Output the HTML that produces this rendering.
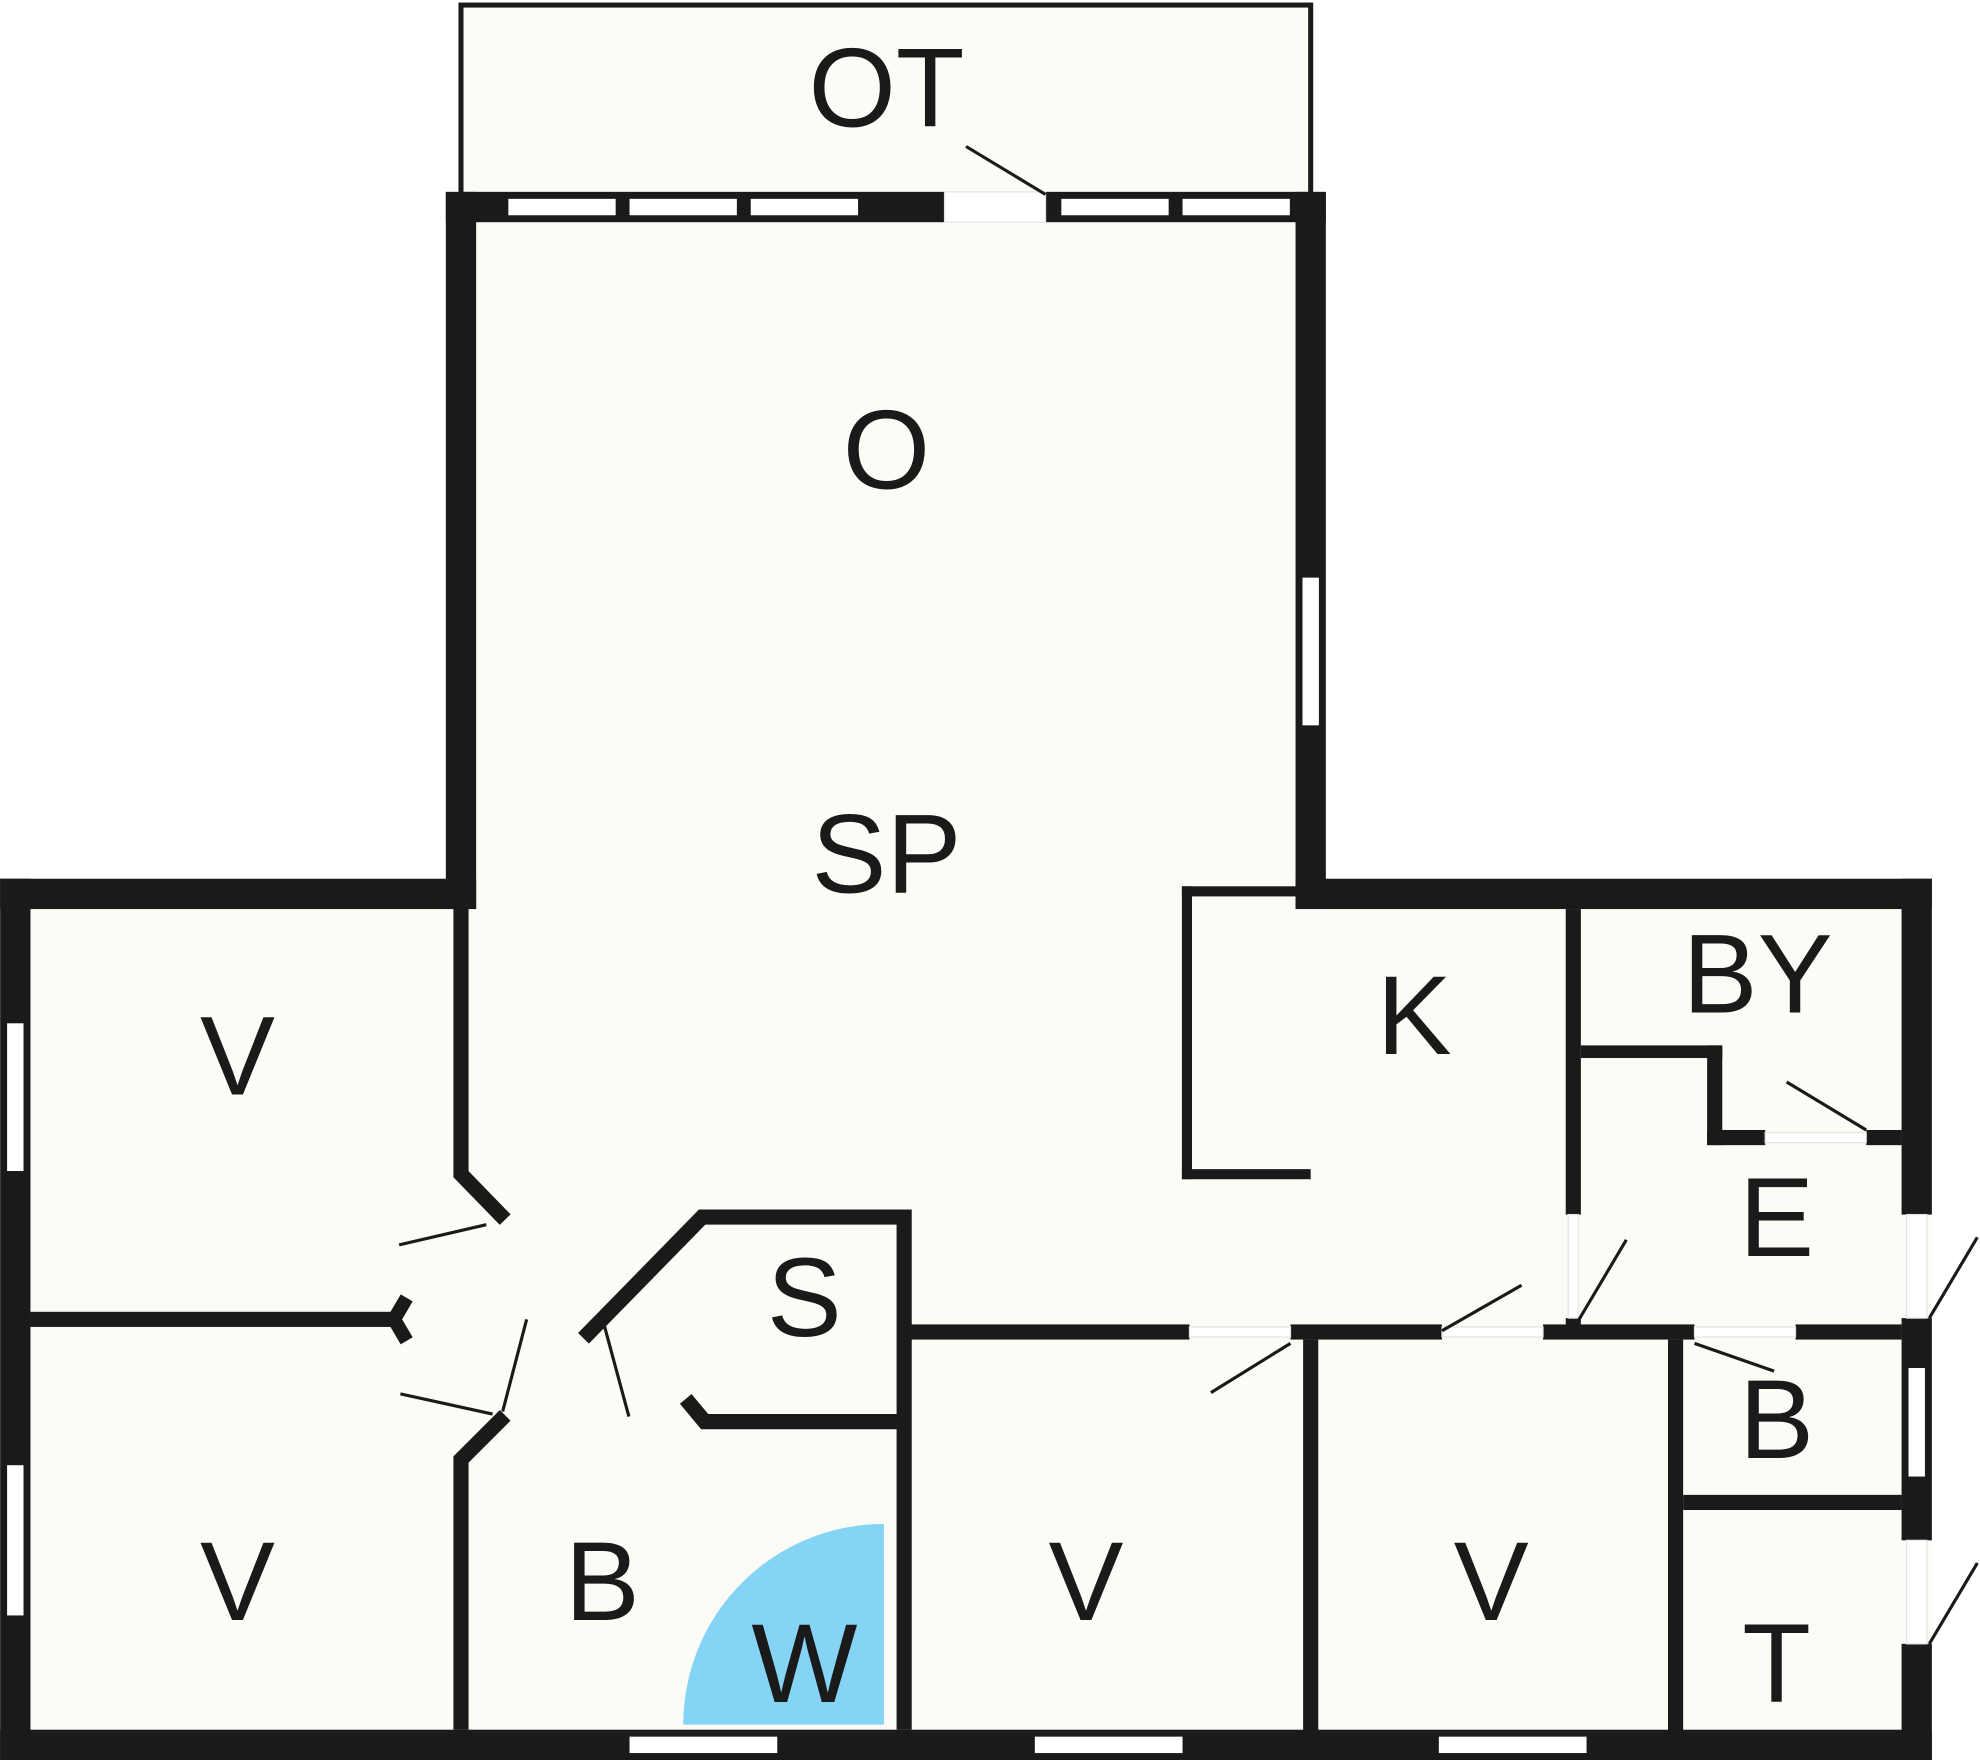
<!DOCTYPE html>
<html><head><meta charset="utf-8"><style>
html,body{margin:0;padding:0;background:#fff;}
svg{display:block}
text{font-family:"Liberation Sans",sans-serif;font-size:89px;fill:#1a1a1a;text-anchor:middle}
</style></head><body>
<svg width="1980" height="1760" viewBox="0 0 1568 1394" xmlns="http://www.w3.org/2000/svg">
<rect x="365" y="5" width="673" height="150" fill="#fcfcf7"/>
<polygon points="353,152 1050,152 1050,696 1530,696 1530,1394 0,1394 0,696 353,696" fill="#fcfcf7"/>
<rect x="365" y="4" width="673" height="150" fill="none" stroke="#1a1a1a" stroke-width="4"/>
<g fill="#1a1a1a">
<rect x="353" y="152" width="697" height="24"/>
<rect x="353" y="152" width="24" height="568"/>
<rect x="1026" y="152" width="24" height="568"/>
<rect x="0" y="696" width="377" height="24"/>
<rect x="0" y="696" width="24" height="698"/>
<rect x="0" y="1370" width="1530" height="24"/>
<rect x="1026" y="696" width="504" height="24"/>
<rect x="1506" y="696" width="24" height="266"/>
<rect x="1506" y="1044" width="24" height="176"/>
<rect x="1506" y="1302" width="24" height="92"/>
<rect x="1032" y="1061" width="12" height="310"/>
<rect x="1321" y="1061" width="12" height="310"/>
<rect x="1333" y="1184" width="173" height="12"/>
<rect x="716" y="1049" width="226" height="12"/>
<rect x="1022" y="1049" width="120" height="12"/>
<rect x="1222" y="1049" width="120" height="12"/>
<rect x="1422" y="1049" width="84" height="12"/>
<rect x="710" y="958" width="12" height="412"/>
<rect x="1240" y="720" width="12" height="242"/>
<rect x="1240" y="1044" width="12" height="12"/>
<rect x="24" y="1039" width="294" height="12"/>
<rect x="936" y="702" width="90" height="8"/>
<rect x="936" y="702" width="8" height="232"/>
<rect x="936" y="926" width="102" height="8"/>
<rect x="1252" y="828" width="112" height="10"/>
<rect x="1352" y="828" width="12" height="79"/>
<rect x="1352" y="895" width="46" height="12"/>
<rect x="1478" y="895" width="28" height="12"/>
</g>
<g fill="none" stroke="#1a1a1a" stroke-width="12" stroke-linejoin="miter">
<polyline points="365,720 365,930 400,966"/>
<polyline points="400,1121 365,1156 365,1370"/>
<polyline points="322,1028 312,1045 322,1062" stroke-width="11"/>
<polyline points="462,1060 556,964 716,964"/>
<polyline points="543,1108 558,1126 716,1126"/>
</g>
<g fill="#fff" stroke="#1a1a1a" stroke-width="1">
<rect x="402" y="157" width="86" height="14"/><rect x="498" y="157" width="86" height="14"/><rect x="594" y="157" width="86" height="14"/>
<rect x="840" y="157" width="86" height="14"/><rect x="936" y="157" width="86" height="14"/>
<rect x="1031" y="457" width="14" height="118"/>
<rect x="5" y="810" width="14" height="118"/><rect x="5" y="1160" width="14" height="120"/>
<rect x="498" y="1375" width="118" height="14"/><rect x="819" y="1375" width="118" height="14"/><rect x="1139" y="1375" width="118" height="14"/>
<rect x="1511" y="1083" width="14" height="87"/>
</g>
<g fill="#fff" stroke="#e4e4e0" stroke-width="1">
<rect x="748" y="152" width="80" height="24"/>
<rect x="942" y="1051" width="80" height="8"/>
<rect x="1142" y="1051" width="80" height="8"/>
<rect x="1342" y="1051" width="80" height="8"/>
<rect x="1398" y="897" width="80" height="8"/>
<rect x="1242" y="962" width="8" height="82"/>
<rect x="1510" y="962" width="16" height="82"/>
<rect x="1510" y="1220" width="16" height="82"/>
</g>
<g stroke="#1a1a1a" stroke-width="2.5" fill="none">
<line x1="828" y1="154" x2="765" y2="116"/>
<line x1="385" y1="970" x2="316" y2="986"/>
<line x1="390" y1="1120" x2="317" y2="1104"/>
<line x1="398" y1="1118" x2="417" y2="1045"/>
<line x1="478" y1="1048" x2="498" y2="1122"/>
<line x1="1022" y1="1064" x2="959" y2="1103"/>
<line x1="1142" y1="1054" x2="1205" y2="1018"/>
<line x1="1250" y1="1046" x2="1288" y2="982"/>
<line x1="1342" y1="1064" x2="1405" y2="1086"/>
<line x1="1478" y1="895" x2="1415" y2="857"/>
<line x1="1528" y1="1044" x2="1566" y2="980"/>
<line x1="1528" y1="1302" x2="1566" y2="1238"/>
</g>
<path d="M700,1366 L541,1366 A159,159 0 0 1 700,1207 Z" fill="#86d4f5"/>
<g>
<text x="702" y="100">OT</text>
<text x="702" y="387">O</text>
<text x="702" y="707">SP</text>
<text x="188" y="867">V</text>
<text x="188" y="1283">V</text>
<text x="860" y="1283">V</text>
<text x="1181" y="1283">V</text>
<text x="1120" y="835">K</text>
<text x="1392" y="802">BY</text>
<text x="1407" y="995">E</text>
<text x="637" y="1058">S</text>
<text x="477" y="1283">B</text>
<text x="1407" y="1155">B</text>
<text x="637" y="1348">W</text>
<text x="1407" y="1348">T</text>
</g>
</svg>
</body></html>
